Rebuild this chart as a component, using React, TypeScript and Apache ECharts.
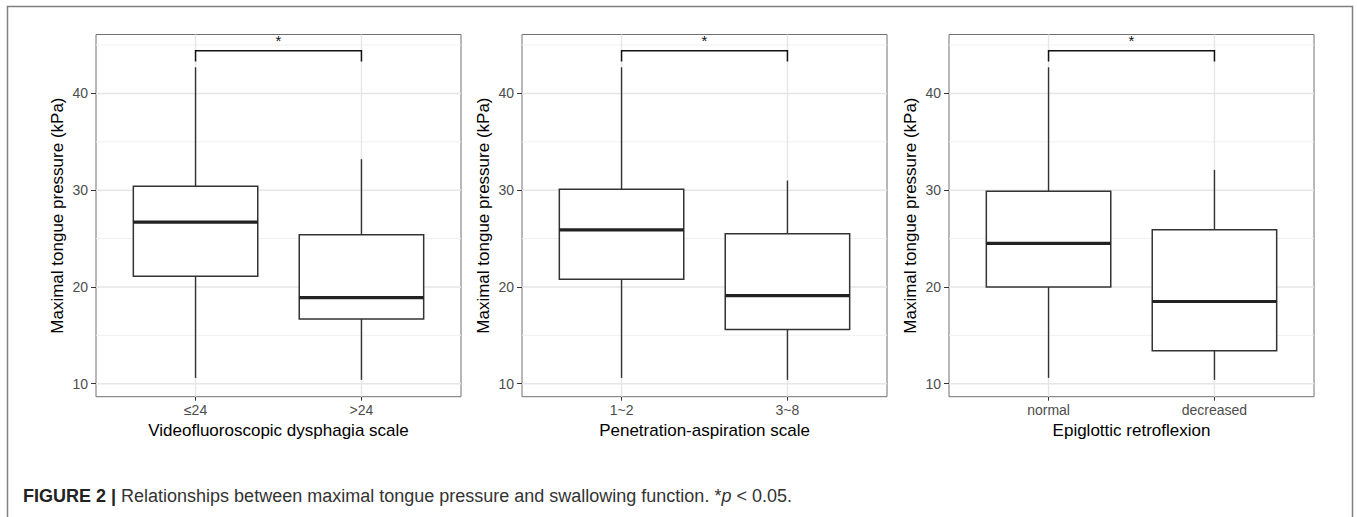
import React, { useEffect, useRef } from 'react';
import * as echarts from 'echarts';

// ---- data ----
const panelTitles = ['Videofluoroscopic dysphagia scale', 'Penetration-aspiration scale', 'Epiglottic retroflexion'];
const vdsGroups = ['≤24', '>24'];
const pasGroups = ['1~2', '3~8'];
const erGroups = ['normal', 'decreased'];
// [lower whisker, Q1, median, Q3, upper whisker]
const vdsBoxes = [
  [10.6, 21.1, 26.7, 30.4, 42.7],
  [10.4, 16.7, 18.9, 25.4, 33.2],
];
const pasBoxes = [
  [10.6, 20.8, 25.9, 30.1, 42.7],
  [10.4, 15.6, 19.1, 25.5, 31.0],
];
const erBoxes = [
  [10.6, 20.0, 24.5, 29.9, 42.7],
  [10.4, 13.4, 18.5, 25.9, 32.1],
];
const bracketTop = [44.4, 44.4, 44.4];
const bracketTip = [43.3, 43.3, 43.3];
const sigLabels = ['*', '*', '*'];
const yTicks = [10, 20, 30, 40];
const yMinorGrid = [15, 25, 35, 45];
const yTitle = 'Maximal tongue pressure (kPa)';
const captionBold = 'FIGURE 2 |';
const captionMain = ' Relationships between maximal tongue pressure and swallowing function. ';
const captionStat = ['*', 'p', ' < 0.05.'];

// ---- layout / style constants ----
const Y_MIN = 8.66;
const Y_MAX = 46.09;
const X_MIN = -0.6;
const X_MAX = 1.6;
const BOX_WIDTH = 0.75;
const GRID_LEFTS = [96, 522, 949];
const GRID_WIDTH = 365;
const GRID_TOP = 34.5;
const GRID_HEIGHT = 362.2;
const FONT = '"Liberation Sans", Arial, Helvetica, sans-serif';
const INK = '#333333';

const panels = [
  { groups: vdsGroups, boxes: vdsBoxes },
  { groups: pasGroups, boxes: pasBoxes },
  { groups: erGroups, boxes: erBoxes },
];

function buildOption() {
  const grid: any[] = [];
  const xAxis: any[] = [];
  const yAxis: any[] = [];
  const series: any[] = [];

  panels.forEach((p, i) => {
    grid.push({
      left: GRID_LEFTS[i],
      top: GRID_TOP,
      width: GRID_WIDTH,
      height: GRID_HEIGHT,
      show: true,
      borderColor: '#707070',
      borderWidth: 1,
      backgroundColor: '#ffffff',
      containLabel: false,
    });
    xAxis.push({
      gridIndex: i,
      type: 'value',
      min: X_MIN,
      max: X_MAX,
      splitLine: { show: false },
      axisLine: { show: false, onZero: false },
      axisTick: { show: true, customValues: [0, 1], length: 4, lineStyle: { color: INK, width: 1 } },
      axisLabel: {
        customValues: [0, 1],
        formatter: (v: number) => p.groups[Math.round(v)] ?? '',
        color: '#4d4d4d',
        fontSize: 14,
        fontFamily: FONT,
        margin: 6,
      },
      name: panelTitles[i],
      nameLocation: 'middle',
      nameGap: 25,
      nameTextStyle: { color: '#000', fontSize: 17, fontFamily: FONT },
    });
    yAxis.push({
      gridIndex: i,
      type: 'value',
      min: Y_MIN,
      max: Y_MAX,
      splitLine: { show: false },
      axisLine: { show: false, onZero: false },
      axisTick: { show: true, customValues: yTicks, length: 5, lineStyle: { color: INK, width: 1 } },
      axisLabel: {
        customValues: yTicks,
        color: '#4d4d4d',
        fontSize: 14,
        fontFamily: FONT,
        margin: 8,
      },
      name: yTitle,
      nameLocation: 'middle',
      nameGap: 30,
      nameTextStyle: { color: '#000', fontSize: 17, fontFamily: FONT },
    });

    // background grid lines
    series.push({
      type: 'custom',
      xAxisIndex: i,
      yAxisIndex: i,
      z: 1,
      silent: true,
      data: [[0]],
      renderItem: (params: any, api: any) => {
        const cs = params.coordSys;
        const children: any[] = [];
        yMinorGrid.forEach((v) => {
          const y = api.coord([0, v])[1];
          children.push({
            type: 'line',
            shape: { x1: cs.x, y1: y, x2: cs.x + cs.width, y2: y },
            style: { stroke: '#f0f0f0', lineWidth: 1 },
          });
        });
        yTicks.forEach((v) => {
          const y = api.coord([0, v])[1];
          children.push({
            type: 'line',
            shape: { x1: cs.x, y1: y, x2: cs.x + cs.width, y2: y },
            style: { stroke: '#e6e6e6', lineWidth: 1.4 },
          });
        });
        p.groups.forEach((_g, gi) => {
          const x = api.coord([gi, Y_MIN])[0];
          children.push({
            type: 'line',
            shape: { x1: x, y1: cs.y, x2: x, y2: cs.y + cs.height },
            style: { stroke: '#e6e6e6', lineWidth: 1.4 },
          });
        });
        return { type: 'group', children };
      },
    });

    // boxplots
    series.push({
      type: 'custom',
      xAxisIndex: i,
      yAxisIndex: i,
      z: 3,
      silent: true,
      data: p.boxes.map((b, gi) => [gi, ...b]),
      renderItem: (_params: any, api: any) => {
        const x = api.value(0);
        const c = (v: number) => api.coord([x, v]);
        const pLo = c(api.value(1));
        const pQ1 = c(api.value(2));
        const pMed = c(api.value(3));
        const pQ3 = c(api.value(4));
        const pHi = c(api.value(5));
        const half = api.size([BOX_WIDTH, 0])[0] / 2;
        const whisker = { stroke: INK, lineWidth: 1.4 };
        return {
          type: 'group',
          children: [
            { type: 'line', shape: { x1: pLo[0], y1: pLo[1], x2: pQ1[0], y2: pQ1[1] }, style: whisker },
            { type: 'line', shape: { x1: pQ3[0], y1: pQ3[1], x2: pHi[0], y2: pHi[1] }, style: whisker },
            {
              type: 'rect',
              shape: { x: pQ3[0] - half, y: pQ3[1], width: half * 2, height: pQ1[1] - pQ3[1] },
              style: { fill: '#ffffff', stroke: INK, lineWidth: 1.5 },
            },
            {
              type: 'line',
              shape: { x1: pMed[0] - half, y1: pMed[1], x2: pMed[0] + half, y2: pMed[1] },
              style: { stroke: '#222222', lineWidth: 3.2 },
            },
          ],
        };
      },
    });

    // significance bracket
    series.push({
      type: 'custom',
      xAxisIndex: i,
      yAxisIndex: i,
      z: 4,
      silent: true,
      clip: false,
      data: [[bracketTop[i], bracketTip[i]]],
      renderItem: (_params: any, api: any) => {
        const top = api.value(0);
        const tip = api.value(1);
        const a0 = api.coord([0, tip]);
        const a1 = api.coord([0, top]);
        const b1 = api.coord([1, top]);
        const b0 = api.coord([1, tip]);
        return {
          type: 'group',
          children: [
            {
              type: 'polyline',
              shape: { points: [a0, a1, b1, b0] },
              style: { stroke: '#111', lineWidth: 1.5, fill: 'none' },
            },
            {
              type: 'text',
              x: (a1[0] + b1[0]) / 2,
              y: a1[1] - 3,
              style: {
                text: sigLabels[i],
                fill: '#111',
                fontSize: 15,
                fontFamily: FONT,
                align: 'center',
                verticalAlign: 'bottom',
              },
            },
          ],
        };
      },
    });
  });

  return {
    animation: false,
    backgroundColor: '#ffffff',
    grid,
    xAxis,
    yAxis,
    series,
    graphic: [
      {
        type: 'rect',
        silent: true,
        shape: { x: 7.5, y: 6.5, width: 1345, height: 530 },
        style: { fill: 'none', stroke: '#808080', lineWidth: 1.5 },
        z: 0,
      },
      {
        type: 'text',
        x: 23,
        y: 496,
        style: {
          text:
            '{b|' + captionBold + '}{r|' + captionMain + '}{r|' + captionStat[0] + '}{i|' + captionStat[1] + '}{r|' +
            captionStat[2] + '}',
          verticalAlign: 'middle',
          rich: {
            b: { fontSize: 18, fontWeight: 'bold', fill: '#222', fontFamily: FONT },
            r: { fontSize: 18, fill: '#333', fontFamily: FONT },
            i: { fontSize: 18, fill: '#333', fontStyle: 'italic', fontFamily: FONT },
          },
        },
      },
    ],
  };
}

export default function App() {
  const ref = useRef<HTMLDivElement>(null);
  useEffect(() => {
    document.body.style.margin = '0';
    if (!ref.current) return;
    const chart = echarts.init(ref.current, undefined, { renderer: 'svg' });
    chart.setOption(buildOption() as any);
    return () => {
      chart.dispose();
    };
  }, []);
  return <div ref={ref} style={{ width: 1357, height: 517, position: 'absolute', left: 0, top: 0 }} />;
}
